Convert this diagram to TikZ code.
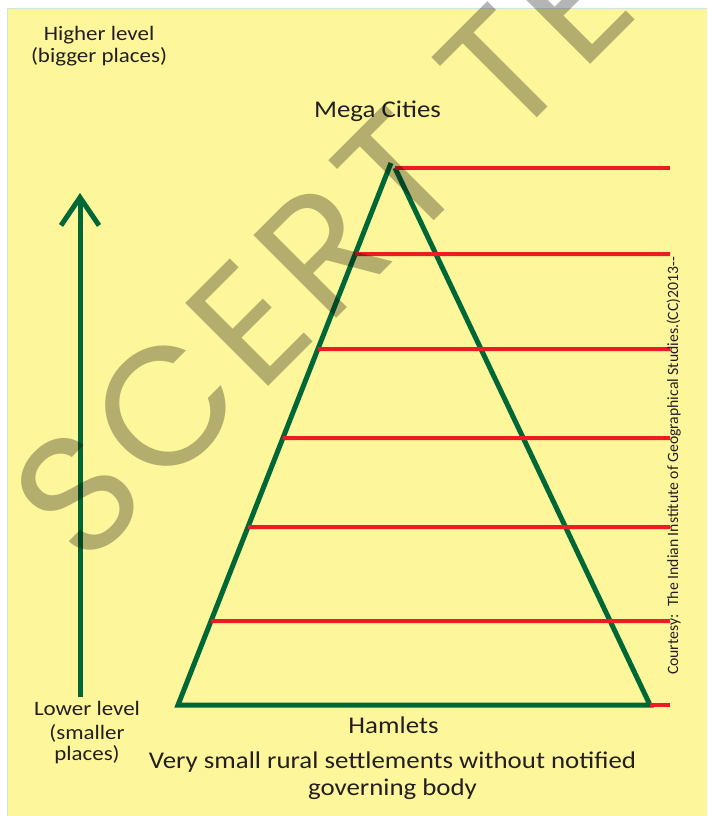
\documentclass[tikz,border=0pt]{standalone}
\usepackage{fontspec}
\setmainfont{Carlito}[FakeStretch=1.12]
\newfontfamily\notefont{Carlito}
\newfontfamily\stampfont{Poppins}[LetterSpace=6]
\usetikzlibrary{arrows.meta,calc}

\definecolor{paper}{RGB}{254,246,155}
\definecolor{rim}{RGB}{205,232,215}
\definecolor{pyrgreen}{RGB}{0,104,55}
\definecolor{levelred}{RGB}{237,28,36}
\definecolor{ink}{RGB}{35,31,32}
\definecolor{stamp}{RGB}{181,181,181}

\begin{document}
\begin{tikzpicture}[x=1pt, y=-1pt, >={Straight Barb[length=28pt,width=38pt]},
  pyramid/.style={draw=pyrgreen, line width=5pt},
  level/.style={draw=levelred, line width=4pt},
  tag/.style={text=ink, inner sep=0pt, anchor=base, font=\fontsize{20.5}{24}\selectfont},
  title/.style={tag, font=\fontsize{24}{28}\selectfont}]
  % page
  \useasboundingbox (0,0) rectangle (707,816);
  \fill[paper] (7,9) rectangle (707,816);
  \draw[rim, line width=1pt] (7,816) -- (7,9) -- (707,9);

  % pyramid
  \coordinate (apex) at (391,163);
  \coordinate (apexR) at (395,168);
  \coordinate (baseL) at (178,705);
  \coordinate (baseR) at (650,705);
  \draw[pyramid] (apex) -- (baseL) -- (baseR) -- (apexR);

  % levels
  \draw[level] (apexR) -- (670,168);
  \foreach \y in {254,349,438,527,621}
    \draw[level] ($(baseL)!{(705-\y)/542}!(apex)$) -- (670,\y);
  \draw[level] (baseR) -- (670,705);

  % scale arrow
  \coordinate (low) at (80,697);
  \coordinate (high) at (80,193);
  \draw[pyramid, ->] (low) -- (high);

  % labels
  \node[tag] (higher) at (99,41) {Higher level};
  \node[tag] (bigger) at (99,63) {(bigger places)};
  \node[tag] (lower) at (87,715) {Lower level};
  \node[tag] (smaller) at (87,739) {(smaller};
  \node[tag] (places) at (87,760) {places)};
  \node[title] (mega) at (377.5,117) {Mega Cities};
  \node[title] (hamlets) at (393.5,733) {Hamlets};
  \node[title] (rural) at (392.5,768) {Very small rural settlements without notified};
  \node[title] (body) at (392.5,795) {governing body};
  \node[tag, rotate=90, font=\notefont\fontsize{15.7}{18}\selectfont] (credit)
    at (678,466) {Courtesy:\hspace{0.5em}The Indian Institute of Geographical Studies.(CC)2013-{}-};

  % watermark
  \begin{scope}[blend mode=multiply]
    \node[rotate=45, anchor=base west, inner sep=0pt, text=stamp,
      font=\stampfont\fontsize{168}{168}\selectfont] (mark) at (84,571) {SCERT TE};
  \end{scope}
\end{tikzpicture}
\end{document}
